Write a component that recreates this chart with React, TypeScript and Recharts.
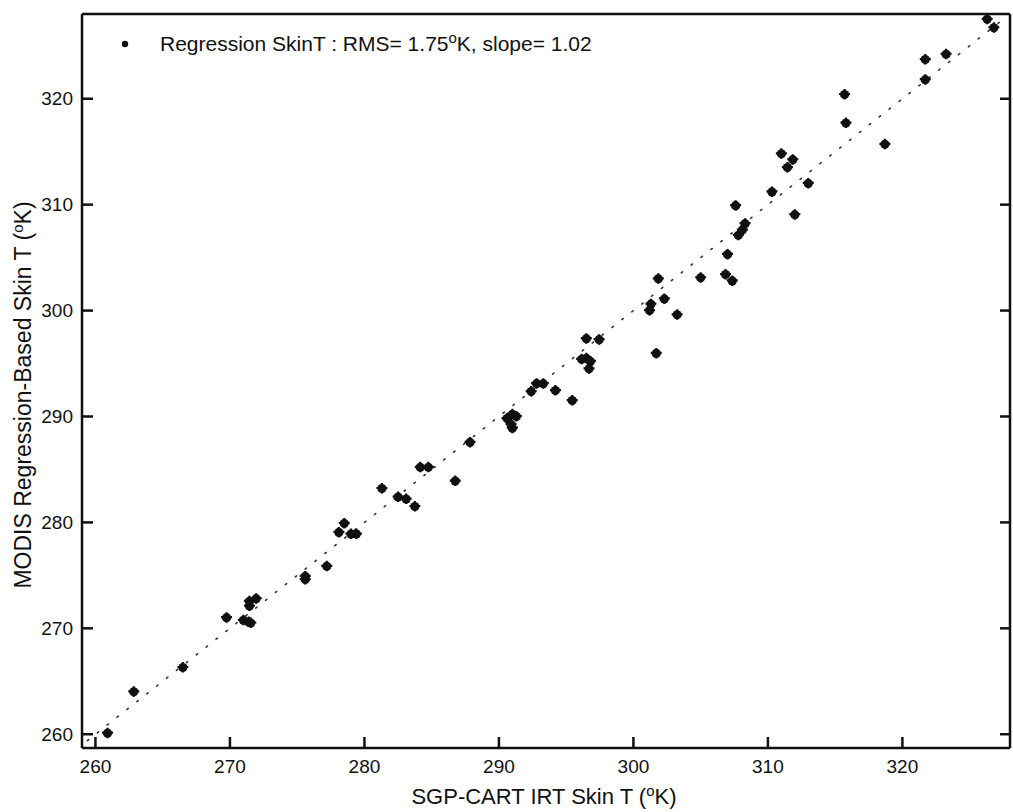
import React from 'react';
import {
  ScatterChart,
  Scatter,
  XAxis,
  YAxis,
  ReferenceLine,
} from 'recharts';

// SGP-CART IRT skin temperature (K)
const irtSkinT = [
  260.9, 262.85, 266.5, 269.75, 271.0, 271.4, 271.55, 271.45, 271.45, 271.95,
  275.6, 275.6, 277.2, 278.1, 278.5, 279.0, 279.4, 281.3, 282.5, 283.1,
  283.75, 284.15, 284.75, 286.75, 287.85, 290.6, 291.0, 291.3, 290.9, 291.0,
  292.4, 292.8, 293.3, 294.2, 295.45, 296.15, 296.5, 296.8, 296.7, 296.5,
  297.45, 301.7, 301.2, 301.3, 301.85, 302.3, 303.25, 305.0, 306.85, 307.35,
  307.0, 307.8, 308.3, 308.1, 307.6, 312.0, 310.3, 311.0, 311.45, 311.85,
  313.0, 315.8, 318.7, 315.7, 321.7, 321.7, 323.25, 326.3, 326.8,
];

// MODIS regression-based skin temperature (K)
const modisSkinT = [
  260.1, 264.0, 266.3, 271.0, 270.75, 270.6, 270.5, 272.1, 272.55, 272.8,
  274.9, 274.6, 275.85, 279.05, 279.9, 278.9, 278.9, 283.2, 282.4, 282.2,
  281.5, 285.2, 285.2, 283.9, 287.55, 289.8, 290.2, 290.0, 289.25, 288.9,
  292.35, 293.1, 293.1, 292.45, 291.5, 295.4, 295.5, 295.2, 294.5, 297.35,
  297.25, 295.95, 300.0, 300.6, 303.0, 301.1, 299.6, 303.1, 303.4, 302.8,
  305.3, 307.1, 308.2, 307.6, 309.9, 309.05, 311.2, 314.8, 313.5, 314.25,
  312.0, 317.7, 315.7, 320.4, 321.8, 323.7, 324.2, 327.5, 326.7,
];

const tickValues = [260, 270, 280, 290, 300, 310, 320];

const data = irtSkinT.map((x, i) => ({ x, y: modisSkinT[i] }));

const FONT = '"Liberation Sans", Arial, sans-serif';
const INK = '#111';
const AXIS_W = 2.5;

const BottomTick = (props: any) => {
  const { x, y, payload } = props;
  return (
    <g>
      <line x1={x} x2={x} y1={y} y2={y - 11} stroke={INK} strokeWidth={2.5} />
      <text x={x} y={y + 25} textAnchor="middle" fontSize={19} fontFamily={FONT} fill={INK}>
        {payload.value}
      </text>
    </g>
  );
};

const LeftTick = (props: any) => {
  const { x, y, payload } = props;
  return (
    <g>
      <line x1={x} x2={x + 11} y1={y} y2={y} stroke={INK} strokeWidth={2.5} />
      <text x={x - 9} y={y} dy="0.35em" textAnchor="end" fontSize={19} fontFamily={FONT} fill={INK}>
        {payload.value}
      </text>
    </g>
  );
};

const TopTick = (props: any) => {
  const { x, y } = props;
  return <line x1={x} x2={x} y1={y} y2={y + 10} stroke={INK} strokeWidth={2.5} />;
};

const RightTick = (props: any) => {
  const { x, y } = props;
  return <line x1={x} x2={x - 10} y1={y} y2={y} stroke={INK} strokeWidth={2.5} />;
};

// printed '+' marker blotted into a roundish blob
const Blob = (props: any) => {
  const { cx, cy } = props;
  return (
    <g fill={INK} stroke={INK}>
      <circle cx={cx} cy={cy} r={4.6} strokeWidth={0} />
      <path
        d={`M${cx - 5.5},${cy - 0.5} L${cx + 5.5},${cy - 0.5} M${cx},${cy - 5.5} L${cx},${cy + 5}`}
        strokeWidth={2.2}
      />
    </g>
  );
};

// superscript "o" used for the degree sign, then back to the baseline
const Deg = () => (
  <>
    <tspan fontSize={15} dy={-8}>o</tspan>
    <tspan dy={8}>K</tspan>
  </>
);

const App: React.FC = () => {
  return (
    <div style={{ position: 'absolute', left: 0, top: 0, width: 1013, height: 812, background: '#fff' }}>
      <ScatterChart
        width={1013}
        height={812}
        margin={{ top: 13, right: 2, bottom: 0, left: 0 }}
      >
        <XAxis
          type="number"
          dataKey="x"
          domain={[259, 328]}
          ticks={tickValues}
          allowDataOverflow
          height={64}
          tickSize={0}
          tickMargin={0}
          tickLine={false}
          tick={BottomTick}
          axisLine={{ stroke: INK, strokeWidth: AXIS_W }}
          interval={0}
        />
        <XAxis
          xAxisId="top"
          orientation="top"
          type="number"
          domain={[259, 328]}
          ticks={tickValues}
          allowDataOverflow
          height={1}
          tickSize={0}
          tickMargin={0}
          tickLine={false}
          tick={TopTick}
          axisLine={{ stroke: INK, strokeWidth: AXIS_W }}
          interval={0}
        />
        <YAxis
          type="number"
          dataKey="y"
          domain={[258.7, 328]}
          ticks={tickValues}
          allowDataOverflow
          width={82}
          tickSize={0}
          tickMargin={0}
          tickLine={false}
          tick={LeftTick}
          axisLine={{ stroke: INK, strokeWidth: AXIS_W }}
          interval={0}
        />
        <YAxis
          yAxisId="right"
          orientation="right"
          type="number"
          domain={[258.7, 328]}
          ticks={tickValues}
          allowDataOverflow
          width={1}
          tickSize={0}
          tickMargin={0}
          tickLine={false}
          tick={RightTick}
          axisLine={{ stroke: INK, strokeWidth: AXIS_W }}
          interval={0}
        />
        <ReferenceLine
          segment={[{ x: 259.4, y: 259.4 }, { x: 327.8, y: 327.8 }]}
          stroke="#333"
          strokeWidth={1.6}
          strokeDasharray="1.6 11"
          strokeLinecap="round"
        />
        <Scatter data={data} shape={Blob} isAnimationActive={false} />
      </ScatterChart>

      {/* legend and axis titles */}
      <svg width={1013} height={812} style={{ position: 'absolute', left: 0, top: 0, pointerEvents: 'none' }}>
        <circle cx={125} cy={44} r={3.2} fill={INK} />
        <text x={160} y={51} fontSize={21} fontFamily={FONT} fill={INK}>
          Regression SkinT : RMS= 1.75<Deg />, slope= 1.02
        </text>
        <text x={544} y={804} textAnchor="middle" fontSize={22} fontFamily={FONT} fill={INK}>
          SGP-CART IRT Skin T (<Deg />)
        </text>
        <text
          transform="translate(31, 395) rotate(-90)"
          textAnchor="middle"
          fontSize={23}
          fontFamily={FONT}
          fill={INK}
        >
          MODIS Regression-Based Skin T (<Deg />)
        </text>
      </svg>
    </div>
  );
};

export default App;
